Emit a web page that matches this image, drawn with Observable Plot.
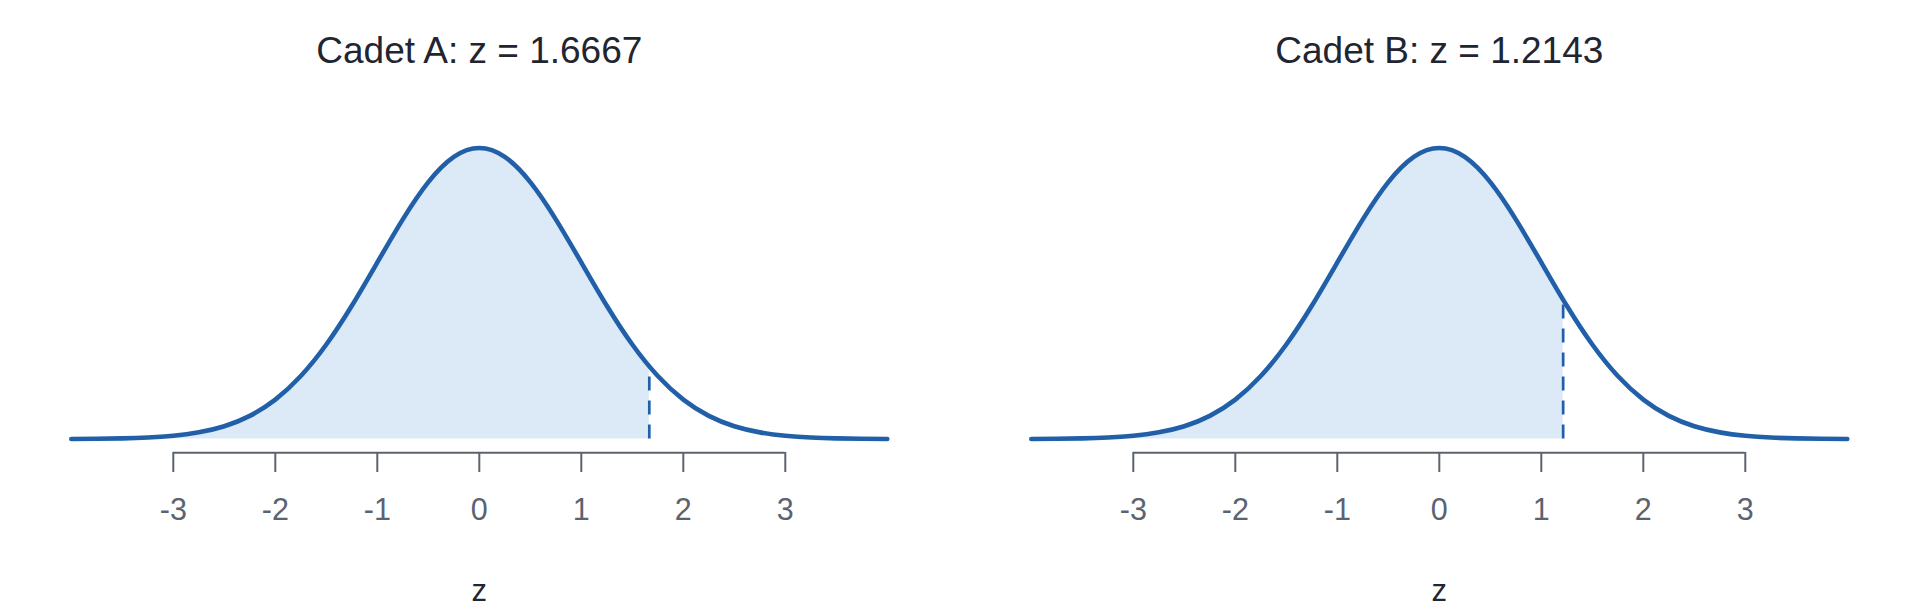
<!DOCTYPE html>
<html>
<head>
<meta charset="utf-8">
<script src="https://cdn.jsdelivr.net/npm/d3@7"></script>
<script src="https://cdn.jsdelivr.net/npm/@observablehq/plot@0.6"></script>
<style>
  html, body { margin: 0; padding: 0; background: #fff; }
  #wrap { display: flex; width: 1920px; height: 614px; }
</style>
</head>
<body>
<div id="wrap"></div>
<script>
// grid of z values and read density heights
const zGrid = [-4, -3.75, -3.5, -3.25, -3, -2.75, -2.5, -2.25, -2, -1.75, -1.5, -1.25, -1, -0.75, -0.5, -0.25,
  0, 0.25, 0.5, 0.75, 1, 1.25, 1.5, 1.75, 2, 2.25, 2.5, 2.75, 3, 3.25, 3.5, 3.75, 4];
const density = [0.0001, 0.0004, 0.0009, 0.0020, 0.0044, 0.0091, 0.0175, 0.0317, 0.0540, 0.0863, 0.1295, 0.1826,
  0.2420, 0.3011, 0.3521, 0.3867, 0.3989, 0.3867, 0.3521, 0.3011, 0.2420, 0.1826, 0.1295, 0.0863, 0.0540,
  0.0317, 0.0175, 0.0091, 0.0044, 0.0020, 0.0009, 0.0004, 0.0001];
const cadets = ["Cadet A", "Cadet B"];
const zScores = [1.6667, 1.2143];
const cutoffHeights = [0.0995, 0.1909];
const tickValues = [-3, -2, -1, 0, 1, 2, 3];
const tickLabels = ["-3", "-2", "-1", "0", "1", "2", "3"];
const axisLabel = "z";

const curve = zGrid.map((z, i) => ({z, d: density[i]}));

const BLUE = "#2160a9";
const FILL = "#dce9f6";
const GREY = "#5b6371";
const DARK = "#1f2531";
const FONT = "'Liberation Sans', Arial, sans-serif";

cadets.forEach((name, k) => {
  const zc = zScores[k];
  const shade = curve.filter(p => p.z < zc).concat([{z: zc, d: cutoffHeights[k]}]);
  const chart = Plot.plot({
    width: 960,
    height: 614,
    marginTop: 51,
    marginBottom: 162,
    marginLeft: 71,
    marginRight: 73,
    style: {fontFamily: FONT, fontSize: "30.5px", background: "#fff"},
    x: {domain: [-4, 4], range: [70.8, 886.8]},
    y: {domain: [0, 0.3989], range: [438.5, 147.5], axis: null},
    marks: [
      Plot.areaY(shade, {x: "z", y: "d", fill: FILL, curve: "natural"}),
      Plot.ruleX([zc], {x: d => d, y1: 0, y2: cutoffHeights[k], stroke: BLUE, strokeWidth: 2.7, strokeDasharray: "14,10"}),
      Plot.line(curve, {x: "z", y: "d", stroke: BLUE, strokeWidth: 4.6, curve: "natural"}),
      Plot.ruleY([0], {x1: -3, x2: 3, dy: 13.8, stroke: GREY, strokeWidth: 2}),
      Plot.axisX({ticks: tickValues, tickFormat: (d) => tickLabels[tickValues.indexOf(d)], tickSize: 20, tickPadding: 26,
        stroke: GREY, strokeWidth: 2, fill: GREY, fontSize: 30.5, label: null}),
      Plot.text([axisLabel], {x: 0, frameAnchor: "bottom", dy: 139, text: d => d, fill: DARK, fontSize: 31, lineAnchor: "middle"}),
      Plot.text([`${name}: z = ${zc.toFixed(4)}`], {x: 0, frameAnchor: "top", text: d => d, fill: DARK, fontSize: 37, lineAnchor: "middle"})
    ]
  });
  document.getElementById("wrap").appendChild(chart);
});
</script>
</body>
</html>
